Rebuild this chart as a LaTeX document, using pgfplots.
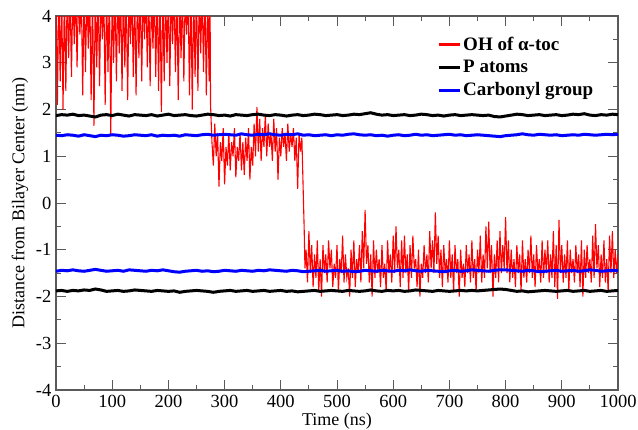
\documentclass[border=0pt]{standalone}
\usepackage{fontspec}
\setmainfont{Liberation Serif}
\usepackage{pgfplots}
\usepackage{pgfplotstable}
\pgfplotsset{compat=1.18}
\definecolor{axgray}{RGB}{90,90,90}

\pgfplotstableread{
t pu cu cl pl
0 1.87 1.45 -1.46 -1.88
10 1.89 1.44 -1.44 -1.87
20 1.88 1.46 -1.45 -1.89
30 1.90 1.45 -1.43 -1.87
40 1.87 1.43 -1.45 -1.88
50 1.88 1.46 -1.46 -1.86
60 1.86 1.44 -1.44 -1.87
70 1.84 1.42 -1.42 -1.84
80 1.88 1.45 -1.44 -1.86
90 1.89 1.44 -1.46 -1.89
100 1.87 1.46 -1.45 -1.88
110 1.90 1.45 -1.44 -1.87
120 1.88 1.43 -1.46 -1.89
130 1.86 1.44 -1.43 -1.88
140 1.89 1.46 -1.44 -1.86
150 1.88 1.45 -1.45 -1.87
160 1.87 1.44 -1.46 -1.88
170 1.89 1.46 -1.44 -1.89
180 1.86 1.43 -1.45 -1.87
190 1.88 1.45 -1.43 -1.88
200 1.90 1.44 -1.45 -1.89
210 1.87 1.45 -1.47 -1.88
220 1.88 1.43 -1.48 -1.91
230 1.89 1.46 -1.46 -1.89
240 1.87 1.45 -1.45 -1.88
250 1.86 1.44 -1.44 -1.87
260 1.88 1.46 -1.46 -1.88
270 1.90 1.47 -1.45 -1.89
280 1.89 1.45 -1.47 -1.91
290 1.87 1.46 -1.46 -1.89
300 1.88 1.47 -1.44 -1.88
310 1.86 1.46 -1.45 -1.87
320 1.89 1.45 -1.46 -1.89
330 1.88 1.48 -1.44 -1.88
340 1.87 1.46 -1.45 -1.87
350 1.89 1.45 -1.46 -1.89
360 1.90 1.47 -1.44 -1.88
370 1.88 1.46 -1.45 -1.87
380 1.87 1.48 -1.43 -1.89
390 1.89 1.46 -1.44 -1.88
400 1.88 1.45 -1.45 -1.87
410 1.86 1.47 -1.46 -1.89
420 1.88 1.46 -1.44 -1.88
430 1.89 1.48 -1.45 -1.90
440 1.87 1.45 -1.47 -1.89
450 1.88 1.46 -1.46 -1.88
460 1.90 1.44 -1.45 -1.87
470 1.89 1.45 -1.44 -1.89
480 1.87 1.46 -1.46 -1.88
490 1.88 1.44 -1.45 -1.87
500 1.89 1.46 -1.44 -1.88
510 1.87 1.45 -1.46 -1.89
520 1.88 1.47 -1.45 -1.87
530 1.90 1.48 -1.47 -1.88
540 1.89 1.46 -1.46 -1.89
550 1.91 1.45 -1.44 -1.88
560 1.93 1.46 -1.45 -1.86
570 1.90 1.44 -1.46 -1.88
580 1.88 1.45 -1.44 -1.89
590 1.89 1.43 -1.45 -1.87
600 1.87 1.45 -1.46 -1.88
610 1.88 1.46 -1.44 -1.87
620 1.89 1.44 -1.45 -1.89
630 1.87 1.45 -1.43 -1.88
640 1.88 1.47 -1.45 -1.86
650 1.90 1.45 -1.46 -1.87
660 1.89 1.46 -1.44 -1.88
670 1.87 1.44 -1.45 -1.89
680 1.88 1.45 -1.46 -1.87
690 1.86 1.46 -1.47 -1.88
700 1.88 1.47 -1.45 -1.89
710 1.89 1.45 -1.44 -1.88
720 1.87 1.46 -1.46 -1.87
730 1.88 1.44 -1.45 -1.88
740 1.89 1.45 -1.43 -1.87
750 1.88 1.46 -1.44 -1.88
760 1.87 1.45 -1.45 -1.87
770 1.88 1.44 -1.46 -1.86
780 1.85 1.43 -1.44 -1.85
790 1.84 1.42 -1.43 -1.84
800 1.86 1.44 -1.43 -1.85
810 1.88 1.45 -1.44 -1.87
820 1.90 1.46 -1.45 -1.89
830 1.89 1.48 -1.46 -1.88
840 1.87 1.46 -1.44 -1.90
850 1.88 1.45 -1.45 -1.89
860 1.89 1.47 -1.47 -1.88
870 1.87 1.46 -1.46 -1.87
880 1.88 1.45 -1.45 -1.88
890 1.89 1.46 -1.44 -1.89
900 1.87 1.44 -1.46 -1.88
910 1.88 1.45 -1.45 -1.87
920 1.90 1.46 -1.44 -1.89
930 1.89 1.45 -1.46 -1.88
940 1.91 1.47 -1.45 -1.87
950 1.88 1.46 -1.43 -1.89
960 1.87 1.45 -1.44 -1.88
970 1.89 1.46 -1.46 -1.87
980 1.88 1.47 -1.45 -1.89
990 1.90 1.46 -1.44 -1.88
1000 1.89 1.47 -1.45 -1.87
}\layers

\begin{document}
\begin{tikzpicture}
\begin{axis}[
  name=ax,
  width=562pt, height=374pt, scale only axis,
  xmin=0, xmax=1000, ymin=-4, ymax=4,
  xtick={0,100,...,1000}, ytick={-4,-3,...,4},
  minor x tick num=1, minor y tick num=1,
  tick pos=both, tick align=inside,
  major tick length=10pt, minor tick length=5pt,
  axis line style={draw=axgray, line width=1.1pt},
  every tick/.style={draw=axgray, line width=0.9pt},
  /pgf/number format/assume math mode=true,
  /pgf/number format/1000 sep={},
  xticklabel={\pgfmathprintnumber{\tick}},
  yticklabel={\pgfmathprintnumber{\tick}},
  tick label style={font=\fontsize{18.5}{21}\selectfont},
  yticklabel style={inner sep=0pt, xshift=-4.5pt},
  xticklabel style={inner sep=0pt, yshift=-5pt},
  label style={font=\fontsize{18}{21}\selectfont, inner sep=0pt},
  xlabel={Time (ns)},
  ylabel={Distance from Bilayer Center (nm)},
  x label style={at={(axis description cs:0.5,0)}, anchor=center, yshift=-31pt},
  y label style={at={(axis description cs:-0.064,0.5)}, anchor=center},
  legend style={at={(axis description cs:0.678,0.950)}, anchor=north west,
    draw=none, fill=none, inner sep=0pt, row sep=4.5pt,
    font=\bfseries\fontsize{19}{22}\selectfont,
    /tikz/every even column/.append style={column sep=4pt}},
  legend cell align=left,
  legend image code/.code={\draw[#1, line width=3pt] (0pt,0pt) -- (21pt,0pt);},
]
\addplot[red, line width=1.1pt] coordinates {
(0,4.6)(2.5,2.1)(5,4.6)(7.5,2.6)(10,4.6)(12.5,2.0)(15,4.6)(17.5,2.4)(20,4.6)(22.5,3.1)
(25,4.6)(27.5,2.7)(30,4.6)(32.5,3.4)(35,4.6)(37.5,2.9)(40,4.6)(42.5,3.6)(45,4.6)(47.5,2.3)
(50,4.6)(52.5,2.8)(55,4.6)(57.5,3.3)(60,4.6)(62.5,2.2)(65,4.6)(67.5,1.65)(70,4.6)(72.5,2.9)
(75,4.6)(77.5,2.5)(80,4.6)(82.5,3.5)(85,4.6)(87.5,2.1)(90,4.6)(92.5,2.8)(95,4.6)(97.5,1.45)
(100,4.6)(102.5,3.0)(105,4.6)(107.5,2.6)(110,4.6)(112.5,3.2)(115,4.6)(117.5,2.4)(120,4.6)(122.5,2.9)
(125,4.6)(127.5,2.2)(130,4.6)(132.5,3.4)(135,4.6)(137.5,2.7)(140,4.6)(142.5,2.3)(145,4.6)(147.5,3.1)
(150,4.6)(152.5,2.6)(155,4.6)(157.5,3.5)(160,4.6)(162.5,2.9)(165,4.6)(167.5,2.5)(170,4.6)(172.5,3.3)
(175,4.6)(177.5,2.7)(180,4.6)(182.5,2.4)(185,4.6)(187.5,1.95)(190,4.6)(192.5,2.6)(195,4.6)(197.5,3.0)
(200,4.6)(202.5,2.5)(205,4.6)(207.5,3.4)(210,4.6)(212.5,2.8)(215,4.6)(217.5,2.2)(220,4.6)(222.5,3.1)
(225,4.6)(227.5,2.6)(230,4.6)(232.5,3.6)(235,4.6)(237.5,2.3)(240,4.6)(242.5,2.0)(245,4.6)(247.5,2.7)
(250,4.6)(252.5,2.4)(255,4.6)(257.5,3.2)(260,4.6)(262.5,2.8)(265,4.6)(267.5,2.3)(270,4.6)(272.5,2.6)
(274,4.6)(275,2.1)
(277.5,1.3)(280,0.8)(282.5,1.7)(285,1.0)(287.5,1.5)(290,0.35)(292.5,1.3)(295,0.9)(297.5,1.6)(300,0.4)
(302.5,1.2)(305,0.8)(307.5,1.5)(310,0.7)(312.5,1.3)(315,1.0)(317.5,1.6)(320,0.55)(322.5,1.2)(325,0.9)
(327.5,1.5)(330,0.7)(332.5,1.3)(335,0.6)(337.5,1.4)(340,0.9)(342.5,1.6)(345,0.5)(347.5,1.2)(350,0.8)
(352.5,1.7)(355,1.0)(357.5,2.05)(360,1.1)(362.5,1.8)(365,0.9)(367.5,1.6)(370,1.2)(372.5,1.9)(375,1.0)
(377.5,1.7)(380,1.2)(382.5,1.5)(385,0.9)(387.5,1.8)(390,1.1)(392.5,1.6)(395,0.5)(397.5,1.4)(400,1.0)
(402.5,1.6)(405,1.2)(407.5,1.5)(410,0.9)(412.5,1.7)(415,1.1)(417.5,1.5)(420,1.2)(422.5,1.6)(425,0.9)
(427.5,1.4)(430,0.3)(432.5,1.5)(435,1.1)(437.5,1.4)(440,0.2)(441.5,-0.5)(443,-1.4)
(445,-1.0)(447.5,-1.7)(450,-0.6)(452.5,-1.5)(455,-0.9)(457.5,-1.8)(460,-1.1)(462.5,-1.6)(465,-0.8)(467.5,-1.9)
(470,-1.2)(472.5,-2.0)(475,-0.9)(477.5,-1.5)(480,-1.1)(482.5,-1.7)(485,-0.8)(487.5,-1.4)(490,-1.0)(492.5,-1.8)
(495,-1.3)(497.5,-1.6)(500,-0.9)(502.5,-1.9)(505,-1.2)(507.5,-1.5)(510,-0.7)(512.5,-1.7)(515,-1.1)(517.5,-1.6)
(520,-1.4)(522.5,-2.0)(525,-1.0)(527.5,-1.6)(530,-0.8)(532.5,-1.8)(535,-1.2)(537.5,-1.5)(540,-0.9)(542.5,-1.7)
(545,-0.6)(547.5,-1.4)(550,-0.15)(552.5,-1.3)(555,-0.9)(557.5,-1.7)(560,-1.1)(562.5,-2.0)(565,-0.8)(567.5,-1.6)
(570,-1.0)(572.5,-1.5)(575,-1.2)(577.5,-1.8)(580,-0.9)(582.5,-1.6)(585,-1.3)(587.5,-1.9)(590,-0.8)(592.5,-1.5)
(595,-1.1)(597.5,-1.7)(600,-0.7)(602.5,-1.5)(605,-0.5)(607.5,-1.4)(610,-1.0)(612.5,-1.8)(615,-0.8)(617.5,-1.6)
(620,-0.7)(622.5,-1.5)(625,-1.1)(627.5,-1.9)(630,-0.9)(632.5,-1.6)(635,-0.7)(637.5,-1.4)(640,-1.2)(642.5,-1.8)
(645,-1.0)(647.5,-2.0)(650,-1.3)(652.5,-1.6)(655,-0.9)(657.5,-1.5)(660,-1.1)(662.5,-1.7)(665,-0.6)(667.5,-1.4)
(670,-0.8)(672.5,-1.5)(675,-0.2)(677.5,-1.3)(680,-0.7)(682.5,-1.6)(685,-1.0)(687.5,-1.8)(690,-0.9)(692.5,-1.5)
(695,-1.2)(697.5,-1.7)(700,-0.8)(702.5,-1.6)(705,-1.1)(707.5,-1.9)(710,-0.9)(712.5,-1.5)(715,-1.2)(717.5,-2.0)
(720,-1.0)(722.5,-1.6)(725,-1.3)(727.5,-1.8)(730,-0.9)(732.5,-1.5)(735,-1.1)(737.5,-1.7)(740,-0.8)(742.5,-1.6)
(745,-1.2)(747.5,-1.9)(750,-1.0)(752.5,-1.5)(755,-0.7)(757.5,-1.7)(760,-1.1)(762.5,-1.6)(765,-0.5)(767.5,-1.4)
(770,-0.4)(772.5,-1.5)(775,-0.9)(777.5,-2.0)(780,-1.1)(782.5,-1.6)(785,-0.8)(787.5,-1.7)(790,-0.6)(792.5,-1.5)
(795,-0.9)(797.5,-1.4)(800,-0.3)(802.5,-1.5)(805,-0.8)(807.5,-1.7)(810,-1.0)(812.5,-1.6)(815,-1.2)(817.5,-1.8)
(820,-0.9)(822.5,-1.5)(825,-1.1)(827.5,-1.9)(830,-0.8)(832.5,-1.6)(835,-1.2)(837.5,-1.7)(840,-1.0)(842.5,-1.5)
(845,-0.7)(847.5,-1.6)(850,-1.1)(852.5,-1.8)(855,-0.9)(857.5,-1.5)(860,-1.2)(862.5,-1.7)(865,-0.8)(867.5,-1.6)
(870,-1.0)(872.5,-1.5)(875,-0.8)(877.5,-1.7)(880,-1.1)(882.5,-1.6)(885,-0.6)(887.5,-1.8)(890,-0.9)(892.5,-2.05)
(895,-0.36)(897.5,-1.5)(900,-0.9)(902.5,-1.7)(905,-1.1)(907.5,-1.6)(910,-0.8)(912.5,-1.9)(915,-1.0)(917.5,-1.5)
(920,-1.2)(922.5,-1.7)(925,-0.9)(927.5,-1.5)(930,-1.1)(932.5,-1.8)(935,-0.8)(937.5,-2.0)(940,-1.0)(942.5,-1.6)
(945,-0.9)(947.5,-1.5)(950,-1.2)(952.5,-1.7)(955,-0.7)(957.5,-1.6)(960,-0.45)(962.5,-1.4)(965,-0.9)(967.5,-1.8)
(970,-1.1)(972.5,-1.6)(975,-0.8)(977.5,-1.7)(980,-1.2)(982.5,-1.9)(985,-0.7)(987.5,-1.5)(990,-0.6)(992.5,-1.6)
(995,-1.0)(997.5,-1.5)(1000,-1.1)
};
\addlegendentry{OH of α-toc}
\addplot[black, line width=3pt] table[x=t, y=pu] {\layers};
\addlegendentry{P atoms}
\addplot[blue, line width=3pt] table[x=t, y=cu] {\layers};
\addlegendentry{Carbonyl group}
\addplot[black, line width=3pt, forget plot] table[x=t, y=pl] {\layers};
\addplot[blue, line width=3pt, forget plot] table[x=t, y=cl] {\layers};
\end{axis}
\pgfresetboundingbox
\path ([shift={(-56pt,-39pt)}]ax.south west) rectangle ([shift={(20pt,16pt)}]ax.north east);
\end{tikzpicture}
\end{document}
